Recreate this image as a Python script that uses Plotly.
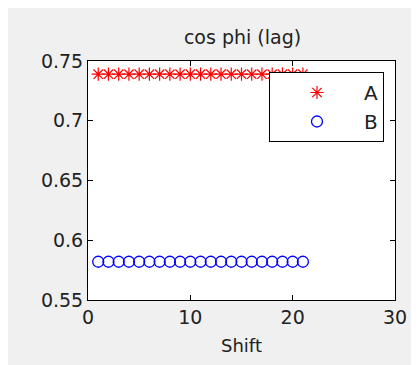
import plotly.graph_objects as go

# ---- data ----
shift = [1, 2, 3, 4, 5, 6, 7, 8, 9, 10, 11, 12, 13, 14, 15, 16, 17, 18, 19, 20, 21]
series_a = [0.739, 0.739, 0.739, 0.739, 0.739, 0.739, 0.739, 0.739, 0.739, 0.739, 0.739,
            0.739, 0.739, 0.739, 0.739, 0.739, 0.739, 0.739, 0.739, 0.739, 0.739]
series_b = [0.582, 0.582, 0.582, 0.582, 0.582, 0.582, 0.582, 0.582, 0.582, 0.582, 0.582,
            0.582, 0.582, 0.582, 0.582, 0.582, 0.582, 0.582, 0.582, 0.582, 0.582]
x_ticks = [0, 10, 20, 30]
y_ticks = [0.55, 0.6, 0.65, 0.7, 0.75]
y_tick_labels = ["0.55", "0.6", "0.65", "0.7", "0.75"]

# page body has an 8px margin, so the figure starts at (8, 8)
OFF = 8
W, H = 419, 365
L, T = 88 - OFF, 61 - OFF
R, B = W - (395 - OFF), H - (300 - OFF)
pw, ph = W - L - R, H - T - B

def px2x(px):
    return (px - OFF - L) / pw

def py2y(py):
    return (H - B - (py - OFF)) / ph

FONT = "DejaVu Sans"
TXT = "#222"

fig = go.Figure()
fig.add_trace(go.Scatter(
    x=shift, y=series_a, mode="markers", name="A",
    marker=dict(symbol="asterisk-open", size=11, color="red",
                line=dict(color="red", width=1.2)),
))
fig.add_trace(go.Scatter(
    x=shift, y=series_b, mode="markers", name="B",
    marker=dict(symbol="circle-open", size=11, color="blue",
                line=dict(color="blue", width=1.3)),
))

axis_common = dict(
    showline=True, linecolor="black", linewidth=1, mirror="ticks",
    ticks="inside", ticklen=5, tickcolor="black", showgrid=False,
    zeroline=False, tickfont=dict(family=FONT, size=19, color=TXT),
)

fig.update_xaxes(range=[0, 30], tickvals=x_ticks,
                 title=dict(text="Shift", font=dict(family=FONT, size=18, color=TXT),
                            standoff=12),
                 **axis_common)
fig.update_yaxes(range=[0.55, 0.75], tickvals=y_ticks, ticktext=y_tick_labels,
                 **axis_common)

fig.update_layout(
    width=W, height=H,
    margin=dict(l=L, r=R, t=T, b=B, pad=0),
    paper_bgcolor="#f0f0f0", plot_bgcolor="white",
    font=dict(family=FONT, color=TXT),
    title=dict(text="cos phi (lag)", x=px2x(242.5), xref="paper", xanchor="center",
               y=1 - (37 - OFF) / H, yref="container", yanchor="middle",
               font=dict(family=FONT, size=19, color=TXT)),
    showlegend=True,
    legend=dict(x=px2x(269), y=py2y(72), xanchor="left", yanchor="top",
                bgcolor="white", bordercolor="black", borderwidth=1,
                itemwidth=84, font=dict(family=FONT, size=20, color=TXT)),
)

fig.write_html("out.html")
